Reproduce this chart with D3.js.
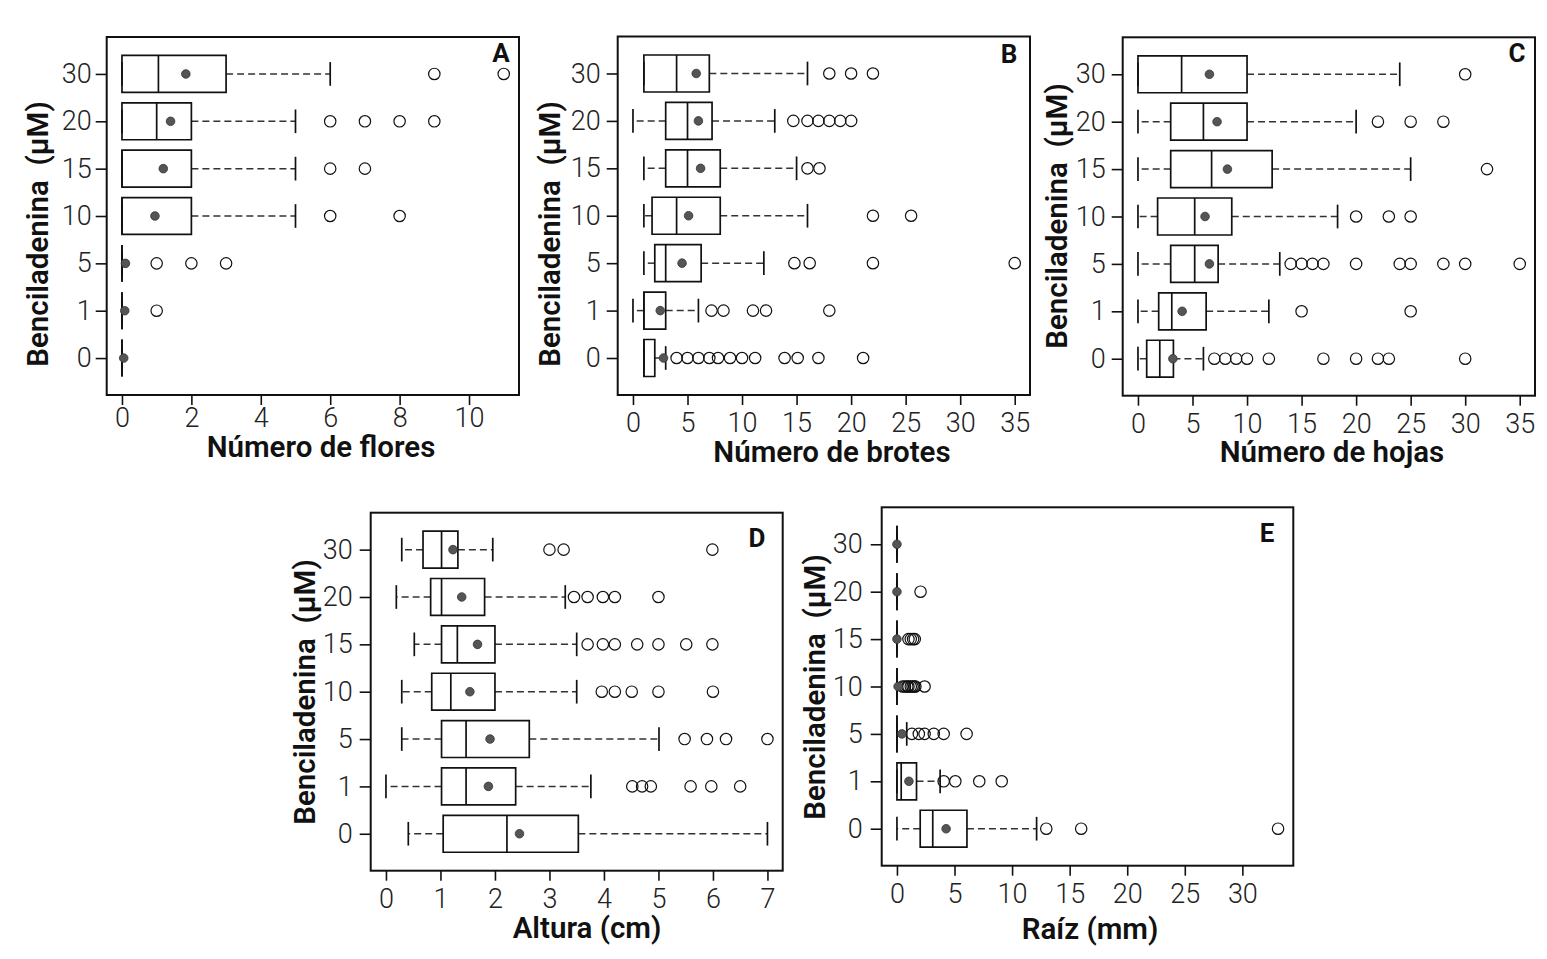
<!DOCTYPE html>
<html><head><meta charset="utf-8">
<script src="https://cdn.jsdelivr.net/npm/d3@7/dist/d3.min.js"></script>
<style>
body{margin:0;background:#fff;}
text{font-family:Roboto,"Open Sans",sans-serif;}
</style></head><body>
<svg id="chart" width="1547" height="959"></svg>
<script>
// Categories (Benciladenina µM), bottom to top
const categories = ["0","1","5","10","15","20","30"];

// Panel A – Número de flores
const floresTicks = [0,2,4,6,8,10];
const floresLo   = [0,0,0,0,0,0,0];
const floresQ1   = [0,0,0,0,0,0,0];
const floresMed  = [0,0,0,0,0,1,1.05];
const floresQ3   = [0,0,0,2,2,2,3];
const floresHi   = [0,0,0,5,5,5,6];
const floresMean = [0.05,0.08,0.1,0.95,1.19,1.4,1.84];
const floresOut  = [[],[1],[1,2,3],[6,8],[6,7],[6,7,8,9],[9,11]];

// Panel B – Número de brotes
const brotesTicks = [0,5,10,15,20,25,30,35];
const brotesLo   = [1,0,1,1,1,0,1];
const brotesQ1   = [1,1,2,1.75,3,3,1];
const brotesMed  = [1,1,3,4,5,5,4];
const brotesQ3   = [2,3,6.25,8,8,7.25,7];
const brotesHi   = [3,6,12,16,15,13,16];
const brotesMean = [2.8,2.5,4.5,5.1,6.2,6.0,5.8];
const brotesOut  = [[4,5,6,7,7.8,8.9,10,11.2,13.9,15.1,17,21.1],[7.2,8.3,11,12.2,18],[14.8,16.2,22,35],[22,25.5],[16,17.1],[14.7,16,17,18,19,20],[18,20,22]];

// Panel C – Número de hojas
const hojasTicks = [0,5,10,15,20,25,30,35];
const hojasLo   = [0,0,0,0,0,0,0];
const hojasQ1   = [0.8,1.9,3,1.8,3,3,0];
const hojasMed  = [2,3.1,5.2,5.2,6.75,6,4];
const hojasQ3   = [3.25,6.25,7.35,8.6,12.3,10,10];
const hojasHi   = [6,12,13,18.3,25,20,24];
const hojasMean = [3.2,4.05,6.55,6.15,8.2,7.25,6.55];
const hojasOut  = [[7,8,9,10,12,17,20,22,23,30],[15,25],[14,15,16,17,20,24,25,28,30,35],[20,23,25],[32],[22,25,28],[30]];

// Panel D – Altura (cm)
const alturaTicks = [0,1,2,3,4,5,6,7];
const alturaLo   = [0.41,0,0.29,0.29,0.52,0.19,0.29];
const alturaQ1   = [1.05,1.02,1.02,0.84,1.02,0.82,0.68];
const alturaMed  = [2.22,1.47,1.47,1.19,1.31,1.02,1.02];
const alturaQ3   = [3.53,2.38,2.63,2.0,2.0,1.81,1.32];
const alturaHi   = [7.0,3.76,5.01,3.5,3.5,3.29,1.96];
const alturaMean = [2.45,1.88,1.91,1.54,1.68,1.39,1.23];
const alturaOut  = [[],[4.52,4.70,4.86,5.59,5.97,6.5],[5.48,5.89,6.24,7.0],[3.96,4.2,4.51,5.0,6.0],[3.70,3.98,4.2,4.61,5.0,5.51,5.99],[3.45,3.70,3.98,4.2,5.0],[3.0,3.26,5.99]];

// Panel E – Raíz (mm)
const raizTicks = [0,5,10,15,20,25,30];
const raizLo   = [0,0,0,0,0,0,0];
const raizQ1   = [2.02,0,0,0,0,0,0];
const raizMed  = [3.11,0.37,0,0,0,0,0];
const raizQ3   = [6.08,1.7,0,0,0,0,0];
const raizHi   = [12.13,3.75,0.85,0,0,0,0];
const raizMean = [4.27,1.04,0.43,0.1,0,0,0];
const raizOut  = [[12.97,16.0,33.1],[4.06,5.07,7.15,9.1],[1.3,1.9,2.4,3.2,4.06,6.05],[0.5,0.7,0.9,1.0,1.2,1.35,1.5,1.6,2.4],[1.0,1.2,1.4,1.55],[2.05],[]];

const yTitle = "Benciladenina  (µM)";

const panels = [
  {letter:"A", xTitle:"Número de flores", ticks:floresTicks, lo:floresLo, q1:floresQ1, med:floresMed, q3:floresQ3, hi:floresHi, mean:floresMean, out:floresOut,
   frame:[106.7,519,37,395], xPad:3, yPad:4, xT:[321,447], yT:[38,234], lp:[501,53]},
  {letter:"B", xTitle:"Número de brotes", ticks:brotesTicks, lo:brotesLo, q1:brotesQ1, med:brotesMed, q3:brotesQ3, hi:brotesHi, mean:brotesMean, out:brotesOut,
   frame:[617.7,1030,36.5,395], xPad:8, yPad:6, xT:[832,452], yT:[550,234], lp:[1009,54]},
  {letter:"C", xTitle:"Número de hojas", ticks:hojasTicks, lo:hojasLo, q1:hojasQ1, med:hojasMed, q3:hojasQ3, hi:hojasHi, mean:hojasMean, out:hojasOut,
   frame:[1122.7,1535,37.3,395.7], xPad:8, yPad:6, xT:[1332,452], yT:[1057,216], lp:[1517,53]},
  {letter:"D", xTitle:"Altura (cm)", ticks:alturaTicks, lo:alturaLo, q1:alturaQ1, med:alturaMed, q3:alturaQ3, hi:alturaHi, mean:alturaMean, out:alturaOut,
   frame:[370.7,782.7,512.7,870.7], xPad:8, yPad:7, xT:[587,928], yT:[305,692], lp:[757,538]},
  {letter:"E", xTitle:"Raíz (mm)", ticks:raizTicks, lo:raizLo, q1:raizQ1, med:raizMed, q3:raizQ3, hi:raizHi, mean:raizMean, out:raizOut,
   frame:[881.7,1293.3,507.3,865.7], xPad:8, yPad:8, xT:[1090,929], yT:[815,687], lp:[1267,533]}
];

const svg = d3.select("#chart");
svg.append("rect").attr("width",1547).attr("height",959).attr("fill","#fff");

panels.forEach(p => {
  const [fx0,fx1,fy0,fy1] = p.frame;
  const g = svg.append("g");
  const maxV = d3.max([d3.max(p.hi), d3.max(p.out.flat())]);
  const minV = d3.min(p.lo);
  const r = maxV - minV;
  const x = d3.scaleLinear().domain([minV - 0.04*r, maxV + 0.04*r]).range([fx0, fx1]);
  const y = d3.scaleLinear().domain([0.22, 7.78]).range([fy1, fy0]);
  const bh = 0.39, sh = 0.25;

  categories.forEach((c,i) => {
    const yc = y(i+1), yt = y(i+1+bh), yb = y(i+1-bh);
    const st = y(i+1+sh), sb = y(i+1-sh);
    [[p.q1[i], p.lo[i]], [p.q3[i], p.hi[i]]].forEach(([a,b]) => {
      if (a !== b) g.append("line").attr("x1",x(a)).attr("x2",x(b)).attr("y1",yc).attr("y2",yc)
        .attr("stroke","#333").attr("stroke-width",1.5).attr("stroke-dasharray","7,4");
    });
    [p.lo[i], p.hi[i]].forEach(v => {
      g.append("line").attr("x1",x(v)).attr("x2",x(v)).attr("y1",st).attr("y2",sb)
        .attr("stroke","#111").attr("stroke-width",1.7);
    });
    const bx0 = x(p.q1[i]), bx1 = x(p.q3[i]);
    g.append("path").attr("d",`M${bx0},${yt}H${bx1}V${yb}H${bx0}Z`)
      .attr("fill","none").attr("stroke","#111").attr("stroke-width",1.7);
    g.append("line").attr("x1",x(p.med[i])).attr("x2",x(p.med[i])).attr("y1",yt).attr("y2",yb)
      .attr("stroke","#111").attr("stroke-width",1.7);
    p.out[i].forEach(v => {
      g.append("circle").attr("cx",x(v)).attr("cy",yc).attr("r",5.7)
        .attr("fill","none").attr("stroke","#111").attr("stroke-width",1.2);
    });
    g.append("circle").attr("cx",x(p.mean[i])).attr("cy",yc).attr("r",4.3)
      .attr("fill","#555").attr("stroke","#333").attr("stroke-width",0.8);
  });

  const ya = g.append("g").attr("transform",`translate(${fx0},0)`)
    .call(d3.axisLeft(y).tickValues(d3.range(1,8)).tickFormat(v => categories[v-1]).tickSize(11).tickPadding(p.yPad));
  const xa = g.append("g").attr("transform",`translate(0,${fy1})`)
    .call(d3.axisBottom(x).tickValues(p.ticks).tickFormat(d3.format("d")).tickSize(10).tickPadding(p.xPad));
  [ya, xa].forEach(a => {
    a.select(".domain").remove();
    a.selectAll(".tick line").attr("stroke","#111").attr("stroke-width",1.6);
    a.selectAll(".tick text").attr("font-size",27).attr("font-weight",300).attr("fill","#222")
      .attr("font-family","Roboto, 'Open Sans', sans-serif");
  });

  g.append("rect").attr("x",fx0).attr("y",fy0).attr("width",fx1-fx0).attr("height",fy1-fy0)
    .attr("fill","none").attr("stroke","#111").attr("stroke-width",2);

  g.append("text").attr("x",p.xT[0]).attr("y",p.xT[1]).attr("dy","0.35em").attr("text-anchor","middle")
    .attr("font-size",29.5).attr("font-weight",600).attr("fill","#111").text(p.xTitle);
  g.append("text").attr("transform",`translate(${p.yT[0]},${p.yT[1]}) rotate(-90)`).attr("dy","0.35em")
    .attr("text-anchor","middle").attr("font-size",29.5).attr("font-weight",600).attr("fill","#111")
    .style("white-space","pre").text(yTitle);
  g.append("text").attr("x",p.lp[0]).attr("y",p.lp[1]).attr("dy","0.35em").attr("text-anchor","middle")
    .attr("font-size",26).attr("font-weight",700).attr("fill","#111").text(p.letter);
});
</script>
</body></html>
